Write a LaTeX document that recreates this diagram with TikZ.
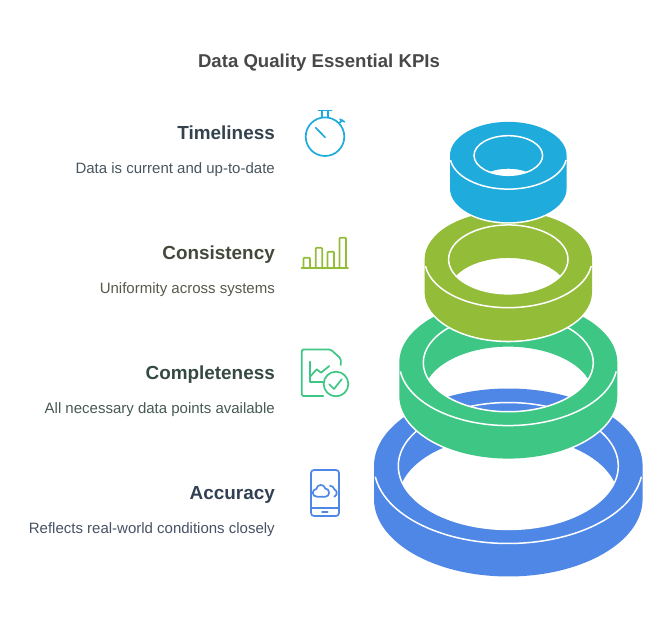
\documentclass[tikz,border=0pt]{standalone}
\usepackage{fontspec}
\setmainfont{Liberation Sans}
\definecolor{kpiblue}{HTML}{4E87E6}
\definecolor{kpiemerald}{HTML}{3EC685}
\definecolor{kpigreen}{HTML}{93BC39}
\definecolor{kpicyan}{HTML}{1FABDC}
\definecolor{titlegray}{HTML}{484848}
\definecolor{headcyan}{HTML}{33424C}
\definecolor{headgreen}{HTML}{43493A}
\definecolor{heademerald}{HTML}{344A41}
\definecolor{headblue}{HTML}{333F52}
\definecolor{desccyan}{HTML}{48555E}
\definecolor{descgreen}{HTML}{555A4C}
\definecolor{descemerald}{HTML}{465A52}
\definecolor{descblue}{HTML}{475264}

\tikzset{
  titletext/.style={anchor=base, inner sep=0pt, text=titlegray, font=\fontsize{18.6}{20}\selectfont\bfseries},
  headtext/.style={anchor=base east, inner sep=0pt, font=\fontsize{18.9}{22}\selectfont\bfseries},
  desctext/.style={anchor=base east, inner sep=0pt, font=\fontsize{15}{16}\selectfont},
  iconline/.style={line width=1.7pt, line join=round, line cap=round},
}

% outer shape of one ring: #1 centre x, #2 y of the top ellipse, #3 rx, #4 ry, #5 height
\newcommand{\ringshape}[5]{(#1-#3,#2) -- ++(0,-#5)
  arc[start angle=180, end angle=360, x radius=#3 pt, y radius=#4 pt] -- ++(0,#5)
  arc[start angle=0, end angle=180, x radius=#3 pt, y radius=#4 pt] -- cycle}

\begin{document}
\begin{tikzpicture}[x=1pt, y=1pt]
  \useasboundingbox (0,0) rectangle (669,628);
  \pgfmathsetmacro{\hgt}{33}
  \pgfmathsetmacro{\cx}{508.3}
  % Rings, from the bottom one up
  \foreach \rout/\rin/\ymid/\col in {134.3/110/162/kpiblue, 109/85/265.3/kpiemerald,
      83.7/59.7/368.6/kpigreen, 58.3/34.3/472.5/kpicyan} {
    \pgfmathsetmacro{\ryo}{0.577*\rout}
    \pgfmathsetmacro{\ryi}{0.577*\rin}
    \pgfmathsetmacro{\tlens}{asin(\hgt/2/\ryi)}
    \pgfmathsetmacro{\xlens}{\rin*cos(\tlens)}
    % white edge against the ring below
    \draw[white, line width=3.2pt] \ringshape{\cx}{\ymid}{\rout}{\ryo}{\hgt};
    % body with the see-through part of the hole
    \fill[\col, even odd rule] \ringshape{\cx}{\ymid}{\rout}{\ryo}{\hgt}
      (\cx-\xlens,\ymid-\hgt/2)
      arc[start angle=180+\tlens, end angle=360-\tlens, x radius=\rin pt, y radius=\ryi pt]
      arc[start angle=\tlens, end angle=180-\tlens, x radius=\rin pt, y radius=\ryi pt] -- cycle;
    % white lines on the top face
    \draw[white, line width=1.5pt] (\cx,\ymid) ellipse[x radius=\rin pt, y radius=\ryi pt];
    \draw[white, line width=1.5pt] (\cx,\ymid) ++(188:\rout pt and \ryo pt)
      arc[start angle=188, end angle=352, x radius=\rout pt, y radius=\ryo pt];
  }
  % Texts
  \node[titletext] (title) at (319,560.5) {Data Quality Essential KPIs};
  \node[headtext, text=headcyan] (timeliness) at (275,488) {Timeliness};
  \node[desctext, text=desccyan] (timelinessdesc) at (275,454) {Data is current and up-to-date};
  \node[headtext, text=headgreen] (consistency) at (275,368) {Consistency};
  \node[desctext, text=descgreen] (consistencydesc) at (275,334) {Uniformity across systems};
  \node[headtext, text=heademerald] (completeness) at (275,248) {Completeness};
  \node[desctext, text=descemerald] (completenessdesc) at (275,214) {All necessary data points available};
  \node[headtext, text=headblue] (accuracy) at (275,128) {Accuracy};
  \node[desctext, text=descblue] (accuracydesc) at (275,94) {Reflects real-world conditions closely};
  % Icons, in pixels from the top left
  \begin{scope}[shift={(0,628)}, yscale=-1, iconline]
    % Stopwatch
    \draw[kpicyan] (325,136.7) circle[radius=19.3pt];
    \draw[kpicyan] (318.5,110.5) -- (331.5,110.5) (322.3,110.5) -- (322.3,117.5) (327.7,110.5) -- (327.7,117.5);
    \draw[kpicyan] (315.7,127.7) -- (325,137.3);
    \draw[kpicyan] (339,123.5) -- (342.3,120) (340,119.3) -- (344.5,121.8);
    % Bars
    \draw[kpigreen] (301.5,268) -- (348,268);
    \foreach \xbar/\ybar in {303.5/257.7, 315.7/247.7, 327.5/251.7, 339.5/237.7} {
      \draw[kpigreen, rounded corners=1pt] (\xbar,268) -- (\xbar,\ybar) -- (\xbar+6.5,\ybar) -- (\xbar+6.5,268);
    }
    % Checked report
    \draw[kpiemerald, rounded corners=1.5pt] (323.3,396) -- (301.7,396) -- (301.7,349.5) -- (330.7,349.5) -- (340.7,358.5) -- (340.7,365);
    \draw[kpiemerald] (310,361.7) -- (310,381.7) -- (323,381.7);
    \draw[kpiemerald] (310.7,376) -- (316.7,369.3) -- (321,372.7) -- (329.3,366);
    \draw[kpiemerald] (336,384) circle[radius=12.3pt];
    \draw[kpiemerald] (329.3,384.3) -- (334,389) -- (341.7,379.3);
    % Phone with clouds
    \draw[kpiblue, rounded corners=3pt] (311,470) rectangle (339,516);
    \draw[kpiblue] (311,508.3) -- (339,508.3);
    \draw[kpiblue] (322,512.2) -- (327.7,512.2);
    \draw[kpiblue] (317,496.7) .. controls (311.5,496.7) and (311.5,489.5) .. (316.3,489)
      .. controls (317,484) and (324,483.5) .. (325.3,488.5)
      .. controls (330,488.5) and (330.5,496.7) .. (325.5,496.7) -- cycle;
    \draw[kpiblue] (330,485.7) .. controls (332.5,486) and (334,487.5) .. (334.5,489.5)
      .. controls (337.5,490.5) and (337.5,495.5) .. (334.3,496.7);
  \end{scope}
\end{tikzpicture}
\end{document}
